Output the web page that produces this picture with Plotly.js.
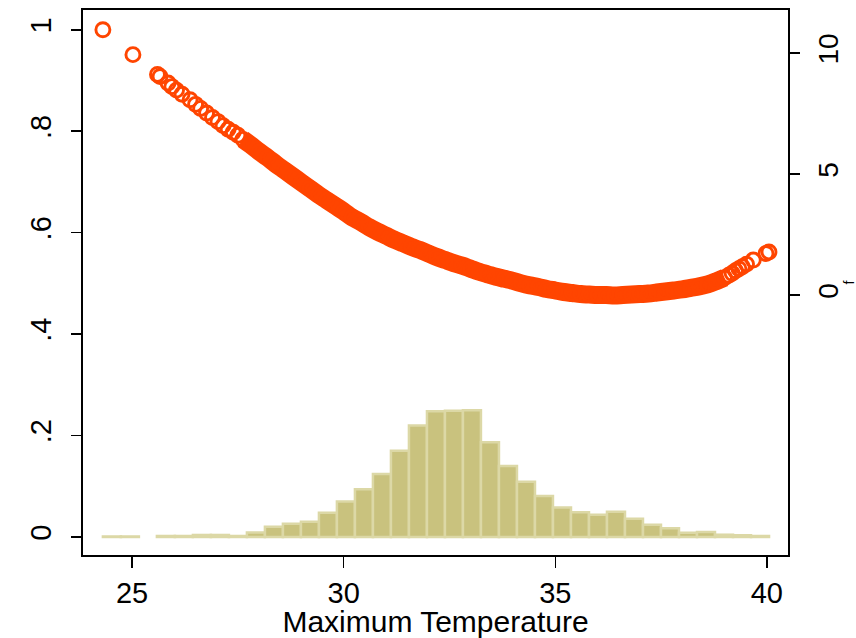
<!DOCTYPE html>
<html>
<head>
<meta charset="utf-8">
<script src="https://cdn.plot.ly/plotly-3.0.1.min.js"></script>
<style>html,body{margin:0;padding:0;background:#fff;}#chart{width:856px;height:638px;}</style>
</head>
<body>
<div id="chart"></div>
<script>
// ---- Data ----
// Fitted values (left axis) against maximum temperature
const tempX = [
  24.31, 25.02, 25.60, 25.66, 25.85, 25.94, 26.05, 26.18, 26.37, 26.50,
  26.62, 26.76, 26.90, 27.03, 27.15, 27.27, 27.39, 27.50, 27.62,
  27.8, 28.0, 28.2, 28.4, 28.6, 28.8, 29.0, 29.2, 29.4, 29.6,
  29.8, 30.0, 30.2, 30.4, 30.6, 30.8, 31.0, 31.2, 31.4, 31.6,
  31.8, 32.0, 32.2, 32.4, 32.6, 32.8, 33.0, 33.2, 33.4, 33.6,
  33.8, 34.0, 34.2, 34.4, 34.6, 34.8, 35.0, 35.2, 35.4, 35.6,
  35.8, 36.0, 36.2, 36.4, 36.6, 36.8, 37.0, 37.2, 37.4, 37.6,
  37.8, 38.0, 38.2, 38.4, 38.6, 38.8, 39.0,
  39.10, 39.18, 39.26, 39.34, 39.42, 39.52, 39.68, 39.98, 40.05
];
const fittedY = [
  1.000, 0.951, 0.912, 0.908, 0.895, 0.888, 0.881, 0.873, 0.862, 0.853,
  0.845, 0.836, 0.827, 0.819, 0.811, 0.804, 0.798, 0.792, 0.784,
  0.773, 0.760, 0.748, 0.735, 0.723, 0.711, 0.699, 0.687, 0.675, 0.664,
  0.653, 0.642, 0.630, 0.621, 0.611, 0.602, 0.594, 0.586, 0.579, 0.572,
  0.566, 0.559, 0.552, 0.546, 0.540, 0.535, 0.529, 0.523, 0.518, 0.513,
  0.509, 0.505, 0.500, 0.496, 0.493, 0.489, 0.486, 0.483, 0.481, 0.479,
  0.478, 0.477, 0.477, 0.476, 0.477, 0.478, 0.479, 0.480, 0.482, 0.484,
  0.486, 0.488, 0.491, 0.494, 0.498, 0.504, 0.511,
  0.516, 0.520, 0.525, 0.529, 0.533, 0.538, 0.546, 0.559, 0.562
];

// Histogram (density) of maximum temperature: 37 bins
const binCenters = [
  24.523, 24.948, 25.373, 25.799, 26.224, 26.650, 27.075, 27.501, 27.926, 28.352,
  28.777, 29.203, 29.628, 30.053, 30.479, 30.904, 31.330, 31.755, 32.181, 32.606,
  33.031, 33.457, 33.882, 34.308, 34.733, 35.159, 35.584, 36.010, 36.435, 36.860,
  37.286, 37.711, 38.137, 38.562, 38.988, 39.413, 39.839
];
const binWidth = 0.4254;
const density = [
  0.001, 0.001, null, 0.002, 0.002, 0.004, 0.004, 0.002, 0.009, 0.020,
  0.026, 0.030, 0.048, 0.070, 0.094, 0.124, 0.170, 0.220, 0.248, 0.249,
  0.250, 0.187, 0.140, 0.109, 0.081, 0.058, 0.049, 0.044, 0.050, 0.036,
  0.024, 0.017, 0.0085, 0.010, 0.0045, 0.0035, 0.002
];

// Tick labels
const xTicks = [25, 30, 35, 40];
const yTicks = [0, 0.2, 0.4, 0.6, 0.8, 1];
const yTickLabels = ["0", ".2", ".4", ".6", ".8", "1"];
const y2Ticks = [0, 5, 10];
const xTitle = "Maximum Temperature";
const y2Title = "f";

// ---- Styling ----
const FONT = "'Liberation Sans', Arial, Helvetica, sans-serif";
const markerColor = "#FF4500";

// dense part of the fitted series (where the circles merge into a solid band)
const denseX = [], denseY = [];
tempX.forEach((x, i) => { if (x >= 27.6 && x <= 39.05) { denseX.push(x); denseY.push(fittedY[i]); } });

const traces = [
  {
    type: "bar", x: binCenters, y: density, width: binWidth,
    marker: { color: "#C9C27E", line: { color: "#DCD8A6", width: 2.5 } },
    yaxis: "y", hoverinfo: "skip"
  },
  {
    type: "scatter", mode: "lines", x: denseX, y: denseY,
    line: { color: markerColor, width: 18, shape: "spline" }, hoverinfo: "skip"
  },
  {
    type: "scatter", mode: "markers", x: tempX, y: fittedY,
    marker: { symbol: "circle-open", size: 14, color: markerColor, line: { width: 2.9, color: markerColor } }
  },
  { type: "scatter", mode: "markers", x: [], y: [], yaxis: "y2" }
];

const layout = {
  width: 856, height: 638,
  margin: { l: 83, r: 68, t: 10, b: 83 },
  paper_bgcolor: "#fff", plot_bgcolor: "#fff",
  showlegend: false,
  bargap: 0,
  font: { family: FONT, color: "#000" },
  xaxis: {
    range: [23.84, 40.50], tickvals: xTicks, ticktext: xTicks.map(String),
    ticks: "outside", ticklen: 11, tickwidth: 1.5, tickcolor: "#000",
    showline: true, linecolor: "#000", linewidth: 2, mirror: true,
    showgrid: false, zeroline: false, automargin: false,
    tickfont: { size: 29, family: FONT }, ticklabelstandoff: 0,
    title: { text: xTitle, font: { size: 30, family: FONT }, standoff: 15 }
  },
  yaxis: {
    range: [-0.0355, 1.039], tickvals: yTicks, ticktext: yTickLabels,
    ticks: "outside", ticklen: 10, tickwidth: 1.5, tickcolor: "#000",
    showline: true, linecolor: "#000", linewidth: 2, mirror: true,
    showgrid: false, zeroline: false, tickangle: -90, automargin: false,
    tickfont: { size: 29, family: FONT }, ticklabelstandoff: 8
  },
  yaxis2: {
    overlaying: "y", side: "right", anchor: "x",
    range: [-10.74, 11.78], tickvals: y2Ticks, ticktext: y2Ticks.map(String),
    ticks: "outside", ticklen: 11, tickwidth: 1.5, tickcolor: "#000",
    showline: false, showgrid: false, zeroline: false, tickangle: -90, automargin: false,
    tickfont: { size: 28, family: FONT }, ticklabelstandoff: 4
  },
  annotations: [
    { text: y2Title, xref: "paper", yref: "paper", x: 1.0865, y: 0.5, showarrow: false,
      xanchor: "center", yanchor: "middle",
      textangle: -90, font: { size: 14, family: FONT, color: "#000" } }
  ]
};

Plotly.newPlot("chart", traces, layout, { staticPlot: true });
</script>
</body>
</html>
